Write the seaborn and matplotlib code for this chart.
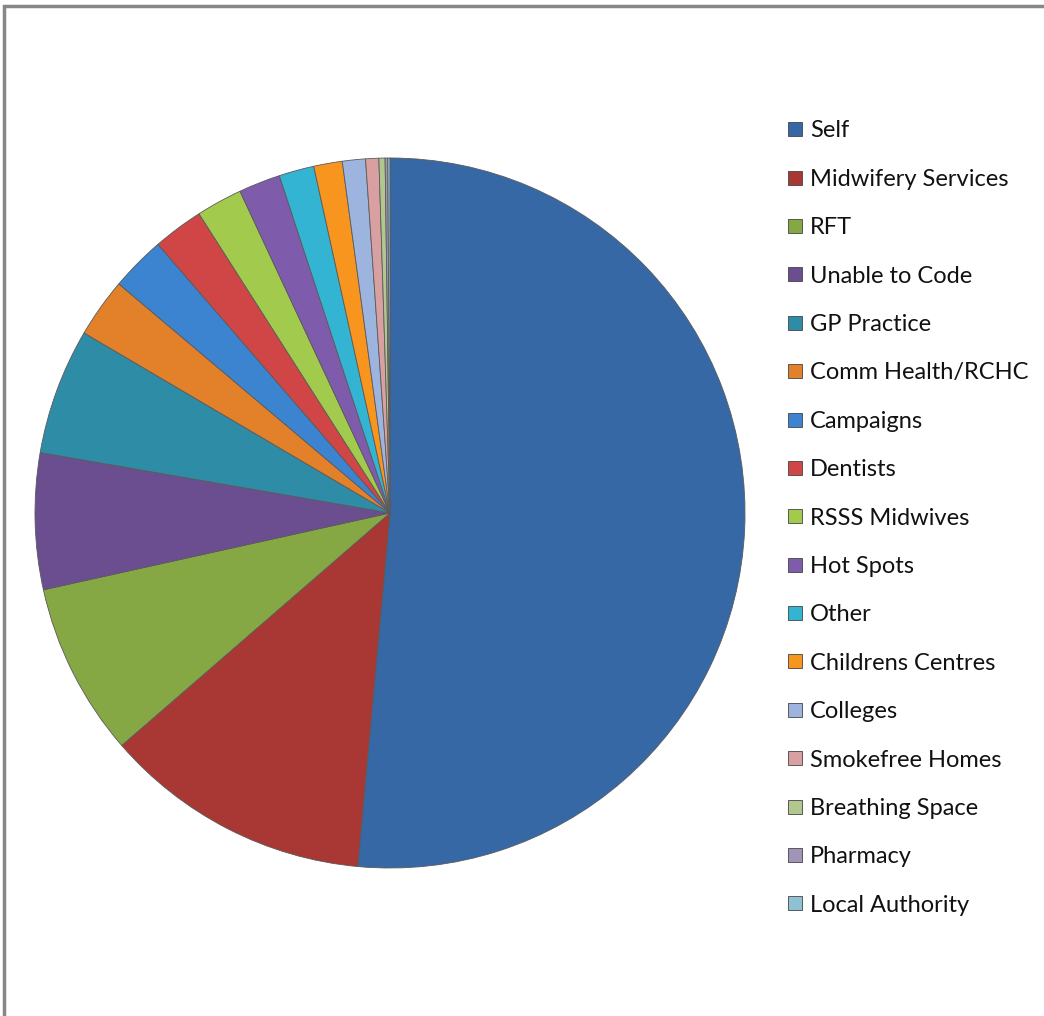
import matplotlib
matplotlib.use("Agg")
import matplotlib.pyplot as plt
import seaborn as sns
from matplotlib.lines import Line2D

# Referral sources (share of referrals, %)
categories = [
    "Self", "Midwifery Services", "RFT", "Unable to Code", "GP Practice",
    "Comm Health/RCHC", "Campaigns", "Dentists", "RSSS Midwives", "Hot Spots",
    "Other", "Childrens Centres", "Colleges", "Smokefree Homes",
    "Breathing Space", "Pharmacy", "Local Authority",
]
values = [51.5, 12.2, 7.9, 6.2, 5.75, 2.7, 2.5, 2.3, 2.1, 1.9,
          1.6, 1.3, 1.05, 0.6, 0.28, 0.12, 0.1]

colors = [
    "#3668A6", "#A93734", "#86A844", "#6A4E90", "#2E8CA6", "#E3802A",
    "#3C83D0", "#D04545", "#A2CB4E", "#7E5BAB", "#33B4D3", "#F7951F",
    "#9DB5DE", "#D8A0A0", "#B2C78E", "#A294B6", "#8EC2D2",
]

sns.set_theme(style="white")
plt.rcParams["font.family"] = ["Lato", "DejaVu Sans"]

W, H = 1044, 1016
fig = plt.figure(figsize=(W / 100, H / 100), dpi=100)
fig.patch.set_facecolor("white")

ax = fig.add_axes([0, 0, 1, 1])
wedges, _ = ax.pie(
    values,
    colors=colors,
    startangle=90,
    counterclock=False,
    center=(390, H - 513),
    radius=355,
    wedgeprops=dict(edgecolor="#5a5a5a", linewidth=0.6),
)
ax.set_xlim(0, W)
ax.set_ylim(0, H)
ax.set_aspect("equal")
ax.axis("off")

# outer chart frame (top and left edges)
ax.plot([4, 4, W + 5], [-5, H - 6, H - 6], color="#878787", lw=2.5,
        solid_joinstyle="miter", clip_on=False)

handles = [
    Line2D([0], [0], marker="s", linestyle="none", markersize=10.5,
           markerfacecolor=c, markeredgecolor="#444444", markeredgewidth=0.6)
    for c in colors
]
leg = ax.legend(
    handles, categories,
    loc="upper left",
    bbox_to_anchor=(777 / W, 1 - 111 / H),
    frameon=False,
    fontsize=17.0,
    handlelength=0.7,
    handletextpad=0.3,
    labelspacing=1.16,
    borderaxespad=0,
)
for t in leg.get_texts():
    t.set_color("#111111")

fig.savefig("out.png", dpi=100, facecolor="white")
